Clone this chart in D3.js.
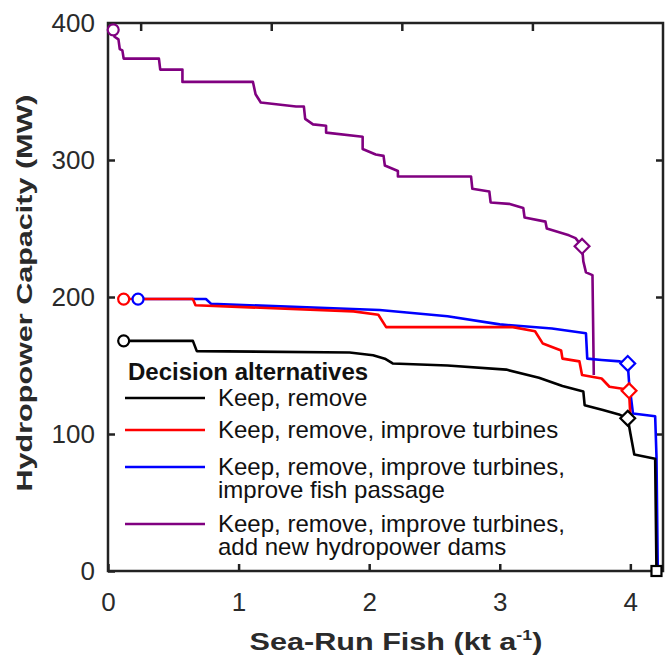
<!DOCTYPE html>
<html>
<head>
<meta charset="utf-8">
<script src="https://cdn.jsdelivr.net/npm/d3@7"></script>
<style>
  body { margin: 0; background: #fff; }
  text { font-family: Arial, "Liberation Sans", sans-serif; }
</style>
</head>
<body>
<div class="chart"></div>
<script>
var svgWidth = 671;
var svgHeight = 657;

// plot box in pixels
var margin = { top: 23, right: 8, bottom: 86, left: 108 };
var width = svgWidth - margin.left - margin.right;
var height = svgHeight - margin.top - margin.bottom;

// ---- data ----
var seriesNames = ["Keep, remove", "Keep, remove, improve turbines",
  "Keep, remove, improve turbines, improve fish passage",
  "Keep, remove, improve turbines, add new hydropower dams"];

var purpleX = [0.04, 0.05, 0.08, 0.09, 0.11, 0.12, 0.39, 0.40, 0.57, 0.57, 1.11, 1.13, 1.17, 1.44, 1.50, 1.51,
  1.57, 1.67, 1.67, 1.95, 1.95, 2.05, 2.11, 2.12, 2.22, 2.22, 2.78, 2.79, 2.92, 2.93, 3.07, 3.18, 3.19,
  3.35, 3.36, 3.53, 3.58, 3.63, 3.64, 3.66, 3.71, 3.72];
var purpleY = [395, 390, 388, 381, 380, 374, 374, 366, 366, 357, 357, 348, 342, 339, 339, 330,
  326, 325, 320, 317, 308, 304, 303, 296, 292, 288, 288, 279, 277, 269, 268, 265, 258,
  255, 250, 245, 243, 237, 226, 218, 216, 143];

var blueX = [0.23, 0.75, 0.79, 2.08, 2.6, 3.0, 3.4, 3.66, 3.67, 3.78, 3.92, 3.98, 3.99, 4.02, 4.19, 4.2, 4.21];
var blueY = [198.5, 198.5, 195, 190.5, 186, 180, 177, 173.5, 155, 154, 153, 151.5, 138, 115, 113, 84, 0];

var redX = [0.12, 0.65, 0.67, 1.88, 2.07, 2.13, 3.10, 3.27, 3.33, 3.47, 3.48, 3.61, 3.63, 3.78, 3.84, 3.94, 3.99, 4.0];
var redY = [198.5, 198.5, 194, 189.5, 187, 178, 178, 175, 166, 161, 155, 153, 143, 140.5, 134.5, 133, 131.5, 113];

var blackX = [0.12, 0.65, 0.68, 1.85, 2.03, 2.12, 2.18, 2.6, 3.05, 3.3, 3.48, 3.64, 3.65, 3.79, 3.92, 3.98, 4.0, 4.03, 4.19, 4.2];
var blackY = [168, 168, 160.5, 159.5, 157.5, 155, 151.5, 150, 147, 141, 135, 131, 121, 117.5, 114, 111.5, 100.5, 85, 82, 0];

// start (circle) and end (diamond) markers
var startX = [0.12, 0.12, 0.23, 0.04];
var startY = [168, 198.5, 198.5, 395];
var endX = [3.98, 3.99, 3.98, 3.63];
var endY = [111.5, 131.5, 151.5, 237];
var squareX = [4.2];
var squareY = [0];

var xTicks = [0, 1, 2, 3, 4];
var yTicks = [0, 100, 200, 300, 400];
var topTicks = [0.25, 1.25, 2.25, 3.25];

var colors = ["#000000", "#ff0000", "#0000ff", "#800080"];

function zip(xs, ys) {
  return xs.map(function(d, i) { return { x: d, y: ys[i] }; });
}

var series = [
  { name: seriesNames[0], color: colors[0], values: zip(blackX, blackY) },
  { name: seriesNames[1], color: colors[1], values: zip(redX, redY) },
  { name: seriesNames[2], color: colors[2], values: zip(blueX, blueY) },
  { name: seriesNames[3], color: colors[3], values: zip(purpleX, purpleY) }
];

var svg = d3.select(".chart")
  .append("svg")
  .attr("width", svgWidth)
  .attr("height", svgHeight);

var chartGroup = svg.append("g")
  .attr("transform", `translate(${margin.left}, ${margin.top})`);

var xScale = d3.scaleLinear().domain([0, 4.25]).range([0, width]);
var yScale = d3.scaleLinear().domain([0, 400]).range([height, 0]);

// axes, ticks pointing inwards
var bottomAxis = d3.axisBottom(xScale).tickValues(xTicks).tickFormat(d3.format("d")).tickSize(-7).tickPadding(22);
var leftAxis = d3.axisLeft(yScale).tickValues(yTicks).tickFormat(d3.format("d")).tickSize(-7).tickPadding(13);
var topAxis = d3.axisTop(xScale).tickValues(topTicks).tickSize(-8).tickFormat("");
var rightAxis = d3.axisRight(yScale).tickValues([100, 200, 300]).tickSize(-7).tickFormat("");

function styleAxis(g) {
  g.select(".domain").remove();
  g.selectAll(".tick line").attr("stroke", "#222").attr("stroke-width", 2.5);
  g.selectAll(".tick text")
    .attr("fill", "#2a2a2a")
    .attr("font-size", 26)
    .attr("font-family", "Arial, 'Liberation Sans', sans-serif");
}

chartGroup.append("g")
  .attr("transform", `translate(0, ${height})`)
  .call(bottomAxis)
  .call(styleAxis);

chartGroup.append("g")
  .call(leftAxis)
  .call(styleAxis);

chartGroup.append("g")
  .call(topAxis)
  .call(styleAxis);

chartGroup.append("g")
  .attr("transform", `translate(${width}, 0)`)
  .call(rightAxis)
  .call(styleAxis);

var line = d3.line()
  .x(d => xScale(d.x))
  .y(d => yScale(d.y));

// purple first so the others sit on top
var drawOrder = [3, 2, 1, 0];
drawOrder.forEach(function(i) {
  chartGroup.append("path")
    .datum(series[i].values)
    .attr("fill", "none")
    .attr("stroke", series[i].color)
    .attr("stroke-width", 2.6)
    .attr("stroke-linejoin", "round")
    .attr("d", line);
});

// box
chartGroup.append("rect")
  .attr("x", 0)
  .attr("y", 0)
  .attr("width", width)
  .attr("height", height)
  .attr("fill", "none")
  .attr("stroke", "#222")
  .attr("stroke-width", 2.5);

// start markers
chartGroup.selectAll(".start")
  .data(startX)
  .enter()
  .append("circle")
  .attr("class", "start")
  .attr("cx", d => xScale(d))
  .attr("cy", (d, i) => yScale(startY[i]))
  .attr("r", 5.5)
  .attr("fill", "#fff")
  .attr("stroke", (d, i) => colors[i])
  .attr("stroke-width", 2.2);

// end markers: square turned 45 degrees
var diamond = d3.symbol().type(d3.symbolSquare).size(110);
chartGroup.selectAll(".end")
  .data(endX)
  .enter()
  .append("path")
  .attr("class", "end")
  .attr("d", diamond)
  .attr("transform", (d, i) => `translate(${xScale(d)}, ${yScale(endY[i])}) rotate(45)`)
  .attr("fill", "#fff")
  .attr("stroke", (d, i) => colors[i])
  .attr("stroke-width", 2.2);

chartGroup.selectAll(".sq")
  .data(squareX)
  .enter()
  .append("rect")
  .attr("class", "sq")
  .attr("x", d => xScale(d) - 5)
  .attr("y", (d, i) => yScale(squareY[i]) - 5)
  .attr("width", 10)
  .attr("height", 10)
  .attr("fill", "#fff")
  .attr("stroke", "#000")
  .attr("stroke-width", 2.2);

// legend
var legend = svg.append("g");
legend.append("text")
  .attr("x", 128)
  .attr("y", 380)
  .attr("font-size", 24)
  .attr("font-weight", "bold")
  .attr("fill", "#111")
  .text("Decision alternatives");

var legendLineY = [398, 430, 467, 524];
var legendText = [
  ["Keep, remove"],
  ["Keep, remove, improve turbines"],
  ["Keep, remove, improve turbines,", "improve fish passage"],
  ["Keep, remove, improve turbines,", "add new hydropower dams"]
];

series.forEach(function(s, i) {
  legend.append("line")
    .attr("x1", 125)
    .attr("x2", 205)
    .attr("y1", legendLineY[i])
    .attr("y2", legendLineY[i])
    .attr("stroke", s.color)
    .attr("stroke-width", 2.6);
  // one text per entry, wrapped lines as tspans
  var entry = legend.append("text")
    .attr("y", legendLineY[i] + 7.5)
    .attr("font-size", 24)
    .attr("fill", "#111");
  legendText[i].forEach(function(t, j) {
    entry.append("tspan")
      .attr("x", 218)
      .attr("dy", j === 0 ? 0 : 23.5)
      .text(t);
  });
});

// axis titles, stretched to the width seen in the picture
function fitWidth(sel, w, cx, cy, rot) {
  var bb = sel.node().getBBox();
  var k = w / bb.width;
  sel.attr("transform", `translate(${cx}, ${cy}) rotate(${rot}) scale(${k}, 1)`);
}

var xTitle = svg.append("text")
  .attr("text-anchor", "middle")
  .attr("font-size", 24)
  .attr("font-weight", "bold")
  .attr("fill", "#2a2a2a");
xTitle.append("tspan").text("Sea-Run Fish (kt a");
xTitle.append("tspan").attr("font-size", 14).attr("dy", -10).text("-1");
xTitle.append("tspan").attr("dy", 10).text(")");
fitWidth(xTitle, 293, 396, 650, 0);

var yTitle = svg.append("text")
  .attr("text-anchor", "middle")
  .attr("font-size", 22)
  .attr("font-weight", "bold")
  .attr("fill", "#2a2a2a")
  .text("Hydropower Capacity (MW)");
fitWidth(yTitle, 397, 32, 293, -90);
</script>
</body>
</html>
